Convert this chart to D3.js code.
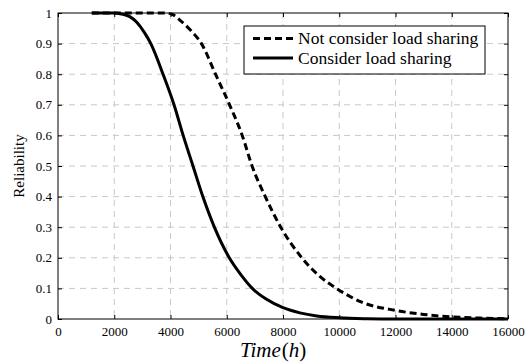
<!DOCTYPE html>
<html>
<head>
<meta charset="utf-8">
<script src="https://cdn.jsdelivr.net/npm/d3@7"></script>
<style>
  body { margin: 0; background: #fff; }
  svg { display: block; font-family: "Liberation Serif", "Times New Roman", Times, serif; }
</style>
</head>
<body>
<svg id="chart" width="532" height="364"></svg>
<script>
// reliability curves
const notConsiderTime = [1200, 3800, 4050, 4330, 4700, 5100, 5600, 6100, 6550, 6900, 7370, 7920, 8670, 9300, 9900, 10800, 12000, 13000, 14000, 15000, 16000]
const notConsiderRel  = [1, 1, 0.996, 0.977, 0.945, 0.9, 0.8, 0.7, 0.6, 0.5, 0.4, 0.3, 0.2, 0.14, 0.1, 0.055, 0.028, 0.015, 0.007, 0.003, 0.001]

const considerTime = [1200, 2000, 2250, 2550, 2800, 3080, 3300, 3735, 4125, 4450, 4800, 5150, 5560, 6090, 6500, 6910, 7400, 8000, 8600, 9200, 10000, 11000, 12000, 16000]
const considerRel  = [1, 1, 0.997, 0.988, 0.97, 0.935, 0.9, 0.8, 0.7, 0.6, 0.5, 0.4, 0.3, 0.2, 0.145, 0.1, 0.065, 0.037, 0.02, 0.01, 0.004, 0.001, 0, 0]

const xTicks = [0, 2000, 4000, 6000, 8000, 10000, 12000, 14000, 16000]
const yTicks = [0, 0.1, 0.2, 0.3, 0.4, 0.5, 0.6, 0.7, 0.8, 0.9, 1]
const legendLabels = ["Not consider load sharing", "Consider load sharing"]

const margin = { left: 58, right: 24, top: 13, bottom: 45 }
const width = 532 - margin.left - margin.right
const height = 364 - margin.top - margin.bottom
const serif = '"Liberation Serif", "Times New Roman", Times, serif'

const svg = d3.select("#chart")
const g = svg.append("g")
  .attr("transform", "translate(" + margin.left + "," + margin.top + ")")

const x = d3.scaleLinear().domain([0, 16000]).range([0, width])
const y = d3.scaleLinear().domain([0, 1]).range([height, 0])

/* grid */
g.append("g").selectAll("line")
  .data(xTicks.slice(1, -1))
  .enter().append("line")
  .attr("x1", d => x(d)).attr("x2", d => x(d))
  .attr("y1", 0).attr("y2", height)
  .attr("stroke", "#c8c8c8").attr("stroke-dasharray", "6,5")

g.append("g").selectAll("line")
  .data(yTicks.slice(1, -1))
  .enter().append("line")
  .attr("y1", d => y(d)).attr("y2", d => y(d))
  .attr("x1", 0).attr("x2", width)
  .attr("stroke", "#c8c8c8").attr("stroke-dasharray", "6,5")

/* axes, ticks pointing inside on all four sides */
const styleAxis = (sel) => {
  sel.attr("font-family", null)
  sel.select(".domain").remove()
  sel.selectAll("line").attr("stroke", "#000")
  sel.selectAll("text").attr("fill", "#000").style("font-size", "13px").style("font-family", serif)
}

g.append("g")
  .attr("transform", "translate(0," + height + ")")
  .call(d3.axisBottom(x).tickValues(xTicks).tickFormat(d3.format("d")).tickSizeInner(-4).tickSizeOuter(0).tickPadding(8))
  .call(styleAxis)

g.append("g")
  .call(d3.axisLeft(y).tickValues(yTicks).tickFormat(d => d === 0 || d === 1 ? d : d3.format(".1f")(d)).tickSizeInner(-4).tickSizeOuter(0).tickPadding(6))
  .call(styleAxis)

g.append("g")
  .call(d3.axisTop(x).tickValues(xTicks).tickFormat("").tickSizeInner(-4).tickSizeOuter(0))
  .call(styleAxis)

g.append("g")
  .attr("transform", "translate(" + width + ",0)")
  .call(d3.axisRight(y).tickValues(yTicks).tickFormat("").tickSizeInner(-4).tickSizeOuter(0))
  .call(styleAxis)

g.append("rect")
  .attr("width", width).attr("height", height)
  .attr("fill", "none").attr("stroke", "#000").attr("stroke-width", 1)

/* curves */
const line = d3.line()
  .x(d => x(d[0]))
  .y(d => y(d[1]))
  .curve(d3.curveMonotoneX)

g.append("path")
  .datum(d3.zip(considerTime, considerRel))
  .attr("fill", "none").attr("stroke", "#000")
  .attr("stroke-width", 3)
  .attr("d", line)

g.append("path")
  .datum(d3.zip(notConsiderTime, notConsiderRel))
  .attr("fill", "none").attr("stroke", "#000")
  .attr("stroke-width", 3)
  .attr("stroke-dasharray", "7,4")
  .attr("d", line)

/* legend */
const legend = svg.append("g").attr("transform", "translate(244,26)")
legend.append("rect")
  .attr("width", 241).attr("height", 48)
  .attr("fill", "#fff").attr("stroke", "#000")

legendLabels.forEach((label, i) => {
  const ly = 12.5 + i * 19.5
  legend.append("line")
    .attr("x1", 9).attr("x2", 49)
    .attr("y1", ly).attr("y2", ly)
    .attr("stroke", "#000").attr("stroke-width", 3)
    .attr("stroke-dasharray", i === 0 ? "7,4" : null)
  legend.append("text")
    .attr("x", 54).attr("y", ly + 5.5)
    .style("font-size", "17.5px")
    .text(label)
})

/* axis titles */
svg.append("text")
  .attr("transform", "translate(24," + (margin.top + height / 2) + ") rotate(-90)")
  .attr("text-anchor", "middle")
  .style("font-size", "15px")
  .text("Reliability")

const xt = svg.append("text")
  .attr("x", 240).attr("y", 357)
  .style("font-size", "21px")
xt.append("tspan").style("font-style", "italic").text("Time")
xt.append("tspan").attr("dx", 1).text("(")
xt.append("tspan").style("font-style", "italic").text("h")
xt.append("tspan").text(")")
</script>
</body>
</html>
